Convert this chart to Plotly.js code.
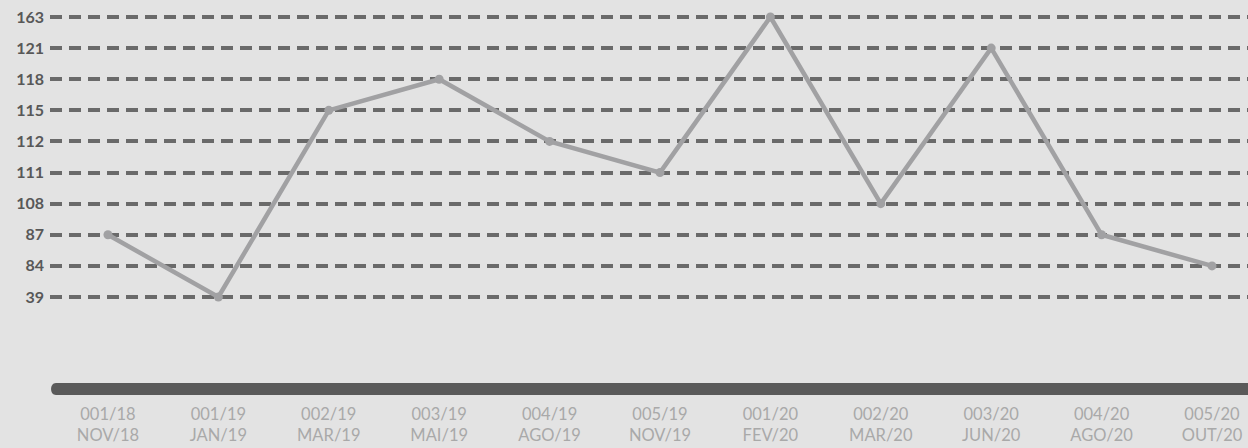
<!DOCTYPE html>
<html>
<head>
<meta charset="utf-8">
<script src="https://cdn.plot.ly/plotly-3.0.1.min.js"></script>
<style>
  html, body { margin: 0; padding: 0; background: #e3e3e3; }
  #chart { width: 1248px; height: 448px; }
</style>
</head>
<body>
<div id="chart"></div>
<script>
// Edition codes and months (x categories)
const editions = ["001/18", "001/19", "002/19", "003/19", "004/19", "005/19", "001/20", "002/20", "003/20", "004/20", "005/20"];
const months   = ["NOV/18", "JAN/19", "MAR/19", "MAI/19", "AGO/19", "NOV/19", "FEV/20", "MAR/20", "JUN/20", "AGO/20", "OUT/20"];
// Values per edition
const values   = [87, 39, 115, 118, 112, 111, 163, 108, 121, 87, 84];
// Y tick labels (ordered axis levels)
const yLevels  = ["39", "84", "87", "108", "111", "112", "115", "118", "121", "163"];

const xCats = editions.map((e, i) => e + "<br>" + months[i]);

const W = 1248, H = 448;
const mL = 50, mR = 0, mT = 0, mB = 59;
const plotW = W - mL - mR, plotH = H - mT - mB;
const barR = 6;

const trace = {
  type: "scatter",
  mode: "lines+markers",
  x: xCats,
  y: values.map(String),
  line: { color: "#a1a1a3", width: 4.5 },
  marker: { color: "#a1a1a3", size: 9 },
  hoverinfo: "x+y"
};

const rx = barR / plotW, ry = barR / plotH;
const barPath = `M ${rx} ${ry} L 1.02 ${ry} L 1.02 ${-ry} L ${rx} ${-ry} ` +
  `C ${-rx*0.1} ${-ry} ${-rx*0.1} ${ry} ${rx} ${ry} Z`;

const layout = {
  width: W, height: H,
  margin: { l: mL, r: mR, t: mT, b: mB, pad: 0 },
  paper_bgcolor: "#e3e3e3",
  plot_bgcolor: "#e3e3e3",
  showlegend: false,
  font: { family: "Lato, 'Open Sans', sans-serif" },
  xaxis: {
    type: "category",
    categoryorder: "array",
    categoryarray: xCats,
    range: [-0.525, 10.326],
    showgrid: false,
    zeroline: false,
    showline: false,
    ticks: "",
    ticklabelstandoff: 13,
    tickfont: { family: "Lato, 'Open Sans', sans-serif", size: 16.5, color: "#a9a9a9", weight: 400 }
  },
  yaxis: {
    type: "category",
    categoryorder: "array",
    categoryarray: yLevels,
    range: [-2.957, 9.546],
    showgrid: true,
    gridcolor: "#6a6a6a",
    gridwidth: 4,
    griddash: "12px,7px",
    zeroline: false,
    showline: false,
    ticks: "",
    ticklabelstandoff: 5,
    tickfont: { family: "Lato, 'Open Sans', sans-serif", size: 16, color: "#585858", weight: 700 }
  },
  shapes: [{
    type: "path",
    xref: "paper", yref: "paper",
    path: barPath,
    fillcolor: "#5a5a5a",
    line: { width: 0 },
    layer: "above"
  }]
};

Plotly.newPlot("chart", [trace], layout, { displayModeBar: false, staticPlot: true });
</script>
</body>
</html>
